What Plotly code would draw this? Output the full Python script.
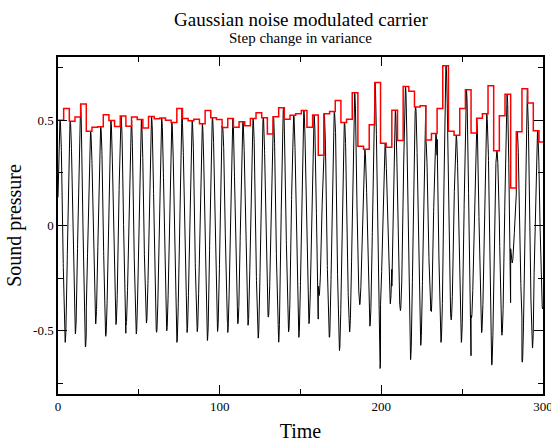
import numpy as np
import plotly.graph_objects as go

# Amplitude (envelope) of the carrier, one value per 3.5-time-unit block
step_duration = 3.5
envelope = [
    0.500, 0.555, 0.495, 0.515, 0.577, 0.448, 0.467, 0.469, 0.526, 0.499,
    0.470, 0.520, 0.471, 0.515, 0.503, 0.463, 0.518, 0.507, 0.510, 0.500,
    0.489, 0.555, 0.508, 0.497, 0.504, 0.483, 0.546, 0.511, 0.503, 0.465,
    0.508, 0.467, 0.492, 0.474, 0.508, 0.535, 0.511, 0.435, 0.516, 0.559,
    0.505, 0.524, 0.531, 0.546, 0.466, 0.525, 0.333, 0.530, 0.541, 0.594,
    0.489, 0.505, 0.630, 0.376, 0.362, 0.478, 0.679, 0.391, 0.372, 0.547,
    0.404, 0.660, 0.637, 0.563, 0.569, 0.406, 0.437, 0.555, 0.759, 0.448,
    0.428, 0.555, 0.645, 0.439, 0.509, 0.531, 0.663, 0.355, 0.521, 0.623,
    0.178, 0.445, 0.649, 0.582, 0.450, 0.396,
]
carrier_phase = 1.3      # time of first carrier peak
t_end = 300.0

x_ticks = [0, 100, 200, 300]
y_ticks = [-0.5, 0, 0.5]
y_tick_text = ["-0.5", "0", "0.5"]

# red step envelope
step_t = [step_duration * k for k in range(len(envelope))] + [t_end]
step_v = list(envelope) + [envelope[-1]]

# black modulated carrier
t = np.arange(0, t_end + 1e-9, 0.04)
idx = np.minimum((t // step_duration).astype(int), len(envelope) - 1)
amp = np.array(envelope)[idx]
signal = amp * np.cos(t - carrier_phase)

W, H = 551, 442
ML, MR, MT, MB = 58, 8, 57, 48

fig = go.Figure()
fig.add_trace(go.Scatter(x=t, y=signal, mode="lines",
                         line=dict(color="black", width=1), showlegend=False))
fig.add_trace(go.Scatter(x=step_t, y=step_v, mode="lines", line_shape="hv",
                         line=dict(color="#ff0000", width=1.5), showlegend=False))

font_family = "Liberation Serif, Times New Roman, serif"
axis_common = dict(showgrid=False, zeroline=False, showline=True, linecolor="black",
                   linewidth=1.5, mirror="allticks", ticks="inside", ticklen=9,
                   tickwidth=1, tickcolor="black", automargin=False,
                   ticklabeloverflow="allow",
                   tickfont=dict(family=font_family, size=13, color="black"))

fig.update_layout(
    width=W, height=H,
    margin=dict(l=ML, r=MR, t=MT, b=MB),
    paper_bgcolor="white", plot_bgcolor="white",
    font=dict(family=font_family, color="black"),
    xaxis=dict(range=[0, 300], tickvals=x_ticks,
               minor=dict(dtick=50, ticks="inside", ticklen=5, tickcolor="black"),
               title=dict(text="Time", font=dict(size=20, family=font_family), standoff=14),
               **axis_common),
    yaxis=dict(range=[-0.8, 0.8], tickvals=y_ticks, ticktext=y_tick_text,
               minor=dict(dtick=0.25, ticks="inside", ticklen=5, tickcolor="black"),
               title=dict(text="Sound pressure", font=dict(size=20, family=font_family), standoff=6),
               **axis_common),
)

plot_h = H - MT - MB
def py(pix):
    return (H - MB - pix) / plot_h

fig.add_annotation(text="Gaussian noise modulated carrier", x=0.5, xref="paper",
                   y=py(19), yref="paper", showarrow=False, yanchor="middle",
                   font=dict(size=19, family=font_family, color="black"))
fig.add_annotation(text="Step change in variance", x=0.5, xref="paper",
                   y=py(38), yref="paper", showarrow=False, yanchor="middle",
                   font=dict(size=15, family=font_family, color="black"))

fig.write_html("out.html")
